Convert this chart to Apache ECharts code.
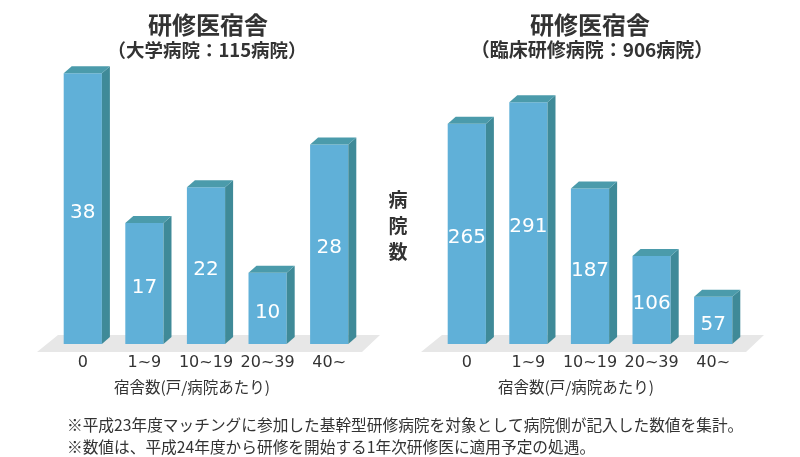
<!DOCTYPE html>
<html><head><meta charset="utf-8">
<script src="https://cdn.jsdelivr.net/npm/echarts@6/dist/echarts.min.js"></script>
<style>html,body{margin:0;padding:0;background:#fff}#c{width:800px;height:457px}</style>
</head><body><div id="c"></div>
<script>
const categories = ['0', '1~9', '10~19', '20~39', '40~'];
const univValues = [38, 17, 22, 10, 28];
const clinicalValues = [265, 291, 187, 106, 57];
const leftTitle = '研修医宿舎';
const leftSub = '（大学病院：115病院）';
const rightTitle = '研修医宿舎';
const rightSub = '（臨床研修病院：906病院）';
const xName = '宿舎数(戸/病院あたり)';
const yName = '病\n院\n数';
const notes = ['※平成23年度マッチングに参加した基幹型研修病院を対象として病院側が記入した数値を集計。',
               '※数値は、平成24年度から研修を開始する1年次研修医に適用予定の処遇。'];

const CJK = '"Noto Sans CJK JP", "Noto Sans", sans-serif';
const NUM = '"DejaVu Sans", sans-serif';
const FRONT = '#60b0d8', SIDE = '#3f8a98', TOP = '#4b9bab';

function renderBar(params, api) {
  const idx = api.value(0), val = api.value(1);
  const top = api.coord([idx, val]);
  const base = api.coord([idx, 0]);
  const bw = api.size([1, 0])[0] * 0.62;
  const l = top[0] - bw / 2, r = top[0] + bw / 2;
  const dx = 8, dy = 7;
  const t = top[1], b = base[1];
  return {
    type: 'group',
    children: [
      {type: 'rect', shape: {x: l, y: t, width: bw, height: b - t}, style: {fill: FRONT}},
      {type: 'polygon', shape: {points: [[r, t], [r + dx, t - dy], [r + dx, b - dy], [r, b]]}, style: {fill: SIDE}},
      {type: 'polygon', shape: {points: [[l, t], [l + dx, t - dy], [r + dx, t - dy], [r, t]]}, style: {fill: TOP}},
      {type: 'text', x: top[0], y: (t + b) / 2 + 4, style: {text: String(val), fill: '#fff', font: '20px ' + NUM, align: 'center', verticalAlign: 'middle'}}
    ]
  };
}
function renderFloor(params, api) {
  const cs = params.coordSys;
  const base = api.coord([0, 0])[1];
  const x0 = cs.x, x1 = cs.x + cs.width;
  return {
    type: 'polygon',
    shape: {points: [[x0 - 15, base + 8], [x0 + 6, base - 9], [x1 + 20, base - 9], [x1 + 2, base + 8]]},
    style: {fill: '#e7e7e7'}
  };
}

const chart = echarts.init(document.getElementById('c'), null, {renderer: 'canvas'});
const xAxisBase = (gi) => ({
  type: 'category', gridIndex: gi, data: categories,
  axisLine: {show: false}, axisTick: {show: false}, splitLine: {show: false},
  axisLabel: {interval: 0, color: '#333', fontSize: 16, margin: 11, fontFamily: NUM},
  name: xName, nameLocation: 'middle', nameGap: 35,
  nameTextStyle: {color: '#333', fontSize: 15.5, fontFamily: CJK, padding: [0, 28, 0, 0]}
});
chart.setOption({
  animation: false,
  grid: [
    {left: 52, width: 308, top: 59, height: 285},
    {left: 436, width: 308, top: 59, height: 285}
  ],
  xAxis: [xAxisBase(0), xAxisBase(1)],
  yAxis: [
    {type: 'value', gridIndex: 0, min: 0, max: 40, show: false},
    {type: 'value', gridIndex: 1, min: 0, max: 343, show: false}
  ],
  series: [
    {type: 'custom', xAxisIndex: 0, yAxisIndex: 0, renderItem: renderFloor, data: [[0, 0]], z: 1},
    {type: 'custom', xAxisIndex: 1, yAxisIndex: 1, renderItem: renderFloor, data: [[0, 0]], z: 1},
    {type: 'custom', xAxisIndex: 0, yAxisIndex: 0, renderItem: renderBar, data: univValues.map((v, i) => [i, v]), z: 2},
    {type: 'custom', xAxisIndex: 1, yAxisIndex: 1, renderItem: renderBar, data: clinicalValues.map((v, i) => [i, v]), z: 2}
  ],
  graphic: [
    {type: 'text', x: 208, y: 25, style: {text: leftTitle, font: 'bold 24px ' + CJK, fill: '#333', align: 'center', verticalAlign: 'middle'}},
    {type: 'text', x: 207, y: 50, style: {text: leftSub, font: 'bold 18.5px ' + CJK, fill: '#333', align: 'center', verticalAlign: 'middle'}},
    {type: 'text', x: 590, y: 25, style: {text: rightTitle, font: 'bold 24px ' + CJK, fill: '#333', align: 'center', verticalAlign: 'middle'}},
    {type: 'text', x: 592, y: 50, style: {text: rightSub, font: 'bold 19px ' + CJK, fill: '#333', align: 'center', verticalAlign: 'middle'}},
    {type: 'text', x: 398, y: 226, style: {text: yName, font: 'bold 19px ' + CJK, lineHeight: 26, fill: '#333', align: 'center', verticalAlign: 'middle'}},
    {type: 'text', x: 67, y: 425, style: {text: notes[0], font: '15.7px ' + CJK, fill: '#333', align: 'left', verticalAlign: 'middle'}},
    {type: 'text', x: 67, y: 447, style: {text: notes[1], font: '15.7px ' + CJK, fill: '#333', align: 'left', verticalAlign: 'middle'}}
  ]
});
</script></body></html>
